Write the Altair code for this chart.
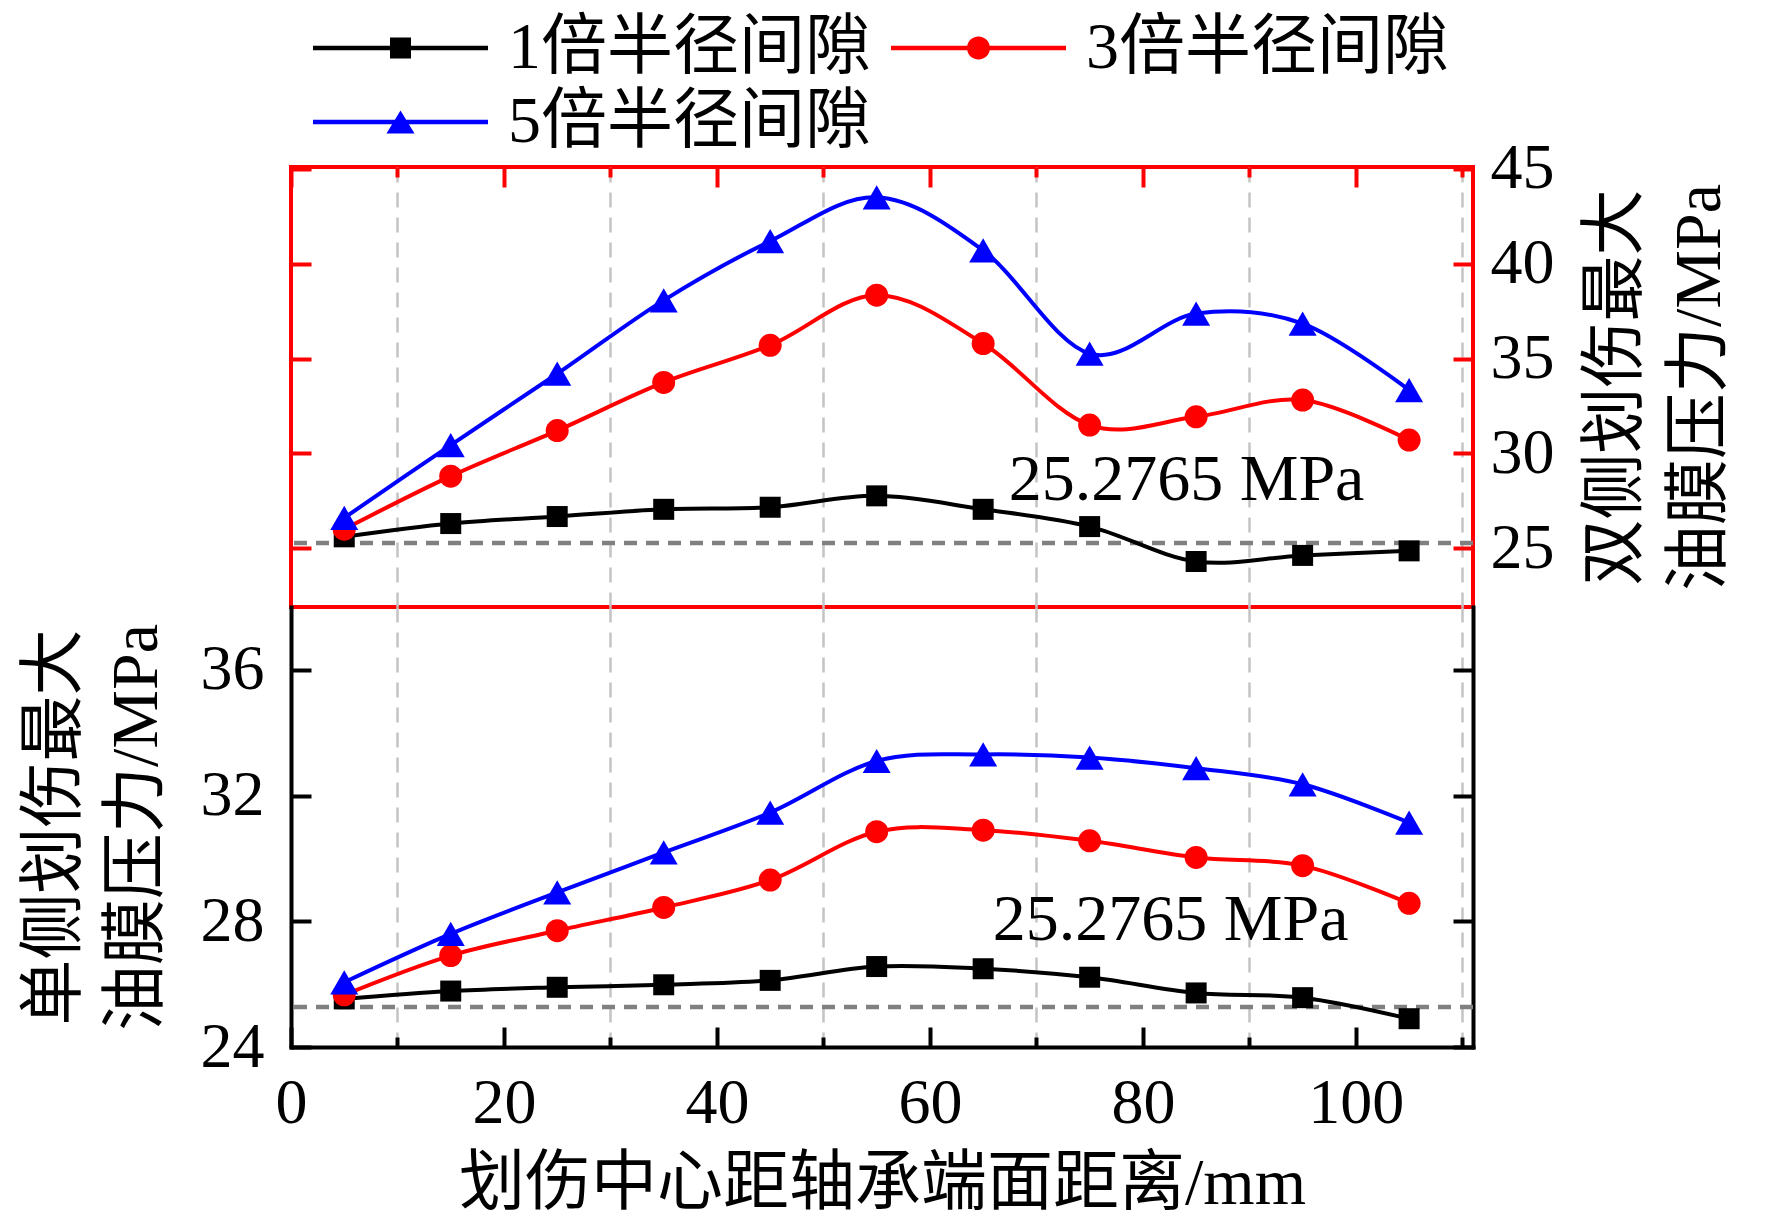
import altair as alt
import pandas as pd

FONT = "Liberation Serif, Noto Sans CJK SC"

# ---------------- data ----------------
positions = [5, 15, 25, 35, 45, 55, 65, 75, 85, 95, 105]
series_names = ["1倍半径间隙", "3倍半径间隙", "5倍半径间隙"]
series_colors = ["#000000", "#ff0000", "#0000ff"]
series_shapes = ["square", "circle", "triangle-up"]

# double-sided scratch (upper panel, right axis)
double_r1 = [25.6, 26.3, 26.67, 27.05, 27.16, 27.76, 27.05, 26.14, 24.3, 24.62, 24.86]
double_r3 = [26.0, 28.8, 31.2, 33.74, 35.7, 38.34, 35.79, 31.49, 31.93, 32.81, 30.7]
double_r5 = [26.6, 30.44, 34.2, 38.07, 41.19, 43.5, 40.7, 35.26, 37.37, 36.84, 33.34]

# single-sided scratch (lower panel, left axis)
single_r1 = [25.53, 25.78, 25.9, 25.98, 26.12, 26.56, 26.49, 26.22, 25.72, 25.57, 24.9]
single_r3 = [25.66, 26.91, 27.7, 28.44, 29.31, 30.85, 30.9, 30.56, 30.03, 29.77, 28.57]
single_r5 = [26.06, 27.6, 28.92, 30.19, 31.46, 33.1, 33.31, 33.21, 32.87, 32.36, 31.14]

threshold = [25.2765]
threshold_label = ["25.2765 MPa"]
double_label_at = [84.1, 27.56]
single_label_at = [82.6, 27.4]

x_major_ticks = [0, 20, 40, 60, 80, 100]
x_minor_ticks = [10, 30, 50, 70, 90, 110]
double_y_ticks = [25, 30, 35, 40, 45]
single_y_ticks = [24, 28, 32, 36]

x_title = "划伤中心距轴承端面距离/mm"
double_title = ["双侧划伤最大", "油膜压力/MPa"]
single_title = ["单侧划伤最大", "油膜压力/MPa"]

# ---------------- layout / style ----------------
W, H = 1182, 440
RED = "#ff0000"
GRID = "#c4c4c4"

xs = alt.Scale(domain=[0, 111], nice=False, zero=False)
ys_top = alt.Scale(domain=[21.9, 45.1], nice=False, zero=False)
ys_bot = alt.Scale(domain=[24, 38], nice=False, zero=False)

marker_sizes = [441, 529, 784]

# legend glyphs: a line segment with the marker in its middle (1 unit = 16.5 px)
LINE = "M-2,-0.13L8.606,-0.13L8.606,0.13L-2,0.13Z"
legend_paths = [
    LINE + "M2.667,-0.636L3.939,-0.636L3.939,0.636L2.667,0.636Z",
    LINE + "M2.606,0A0.697 0.697 0 1 1 4.0,0A0.697 0.697 0 1 1 2.606,0Z",
    LINE + "M3.303,-0.697L4.153,0.697L2.453,0.697Z",
]


def make_df(vals_list):
    rows = []
    for name, vals in zip(series_names, vals_list):
        for xv, yv in zip(positions, vals):
            rows.append({"x": xv, "v": yv, "s": name})
    return pd.DataFrame(rows)


def ax(**kw):
    base = dict(title=None, labels=False, ticks=False, domain=False, grid=False)
    base.update(kw)
    return alt.Axis(**base)


def tick_ax(orient, offset, values, size, color):
    return ax(orient=orient, offset=offset, ticks=True, values=values,
              tickSize=size, tickWidth=4, tickColor=color)


grid_ax = dict(grid=True, values=x_minor_ticks, gridColor=GRID, gridDash=[15, 10], gridWidth=2.5)

top_x_axes = [
    ax(**grid_ax),
    tick_ax("bottom", -H, x_major_ticks, 20, RED),
    tick_ax("bottom", -H, x_minor_ticks, 10, RED),
]
top_y_axes = [
    tick_ax("right", -W, double_y_ticks, 20, RED),
    tick_ax("left", -W, double_y_ticks, 20, RED),
    ax(orient="right", labels=True, values=double_y_ticks, tickSize=0, labelPadding=17,
       title=double_title, titleAngle=270, titleBaseline="top", titleAlign="center",
       titleX=110, titleY=220, titleLineHeight=84),
]

bot_x_axes = [
    ax(orient="bottom", labels=True, values=x_major_ticks, tickSize=0, domain=True,
       domainColor="black", domainWidth=4, domainCap="square", labelPadding=24,
       title=x_title, titlePadding=16),
    ax(**grid_ax),
    tick_ax("top", -H, x_major_ticks, 20, "black"),
    tick_ax("top", -H, x_minor_ticks, 10, "black"),
]
bot_y_axes = [
    ax(orient="left", labels=True, values=single_y_ticks, tickSize=0, domain=True,
       domainColor="black", domainWidth=4, domainCap="square", labelPadding=27,
       title=single_title, titlePadding=30, titleLineHeight=82),
    tick_ax("right", -W, single_y_ticks, 20, "black"),
    ax(orient="left", offset=-W, ticks=True, values=single_y_ticks, tickSize=20,
       tickWidth=4, tickColor="black", domain=True, domainColor="black",
       domainWidth=4, domainCap="square"),
]


def build_panel(vals_list, y_scale, x_axes, y_axes, label_at, frame, with_legend):
    df = make_df(vals_list)
    layers = []
    layers.append(
        alt.Chart(pd.DataFrame({"ref": threshold}))
        .mark_rule(color="#808080", strokeWidth=4.5, strokeDash=[13, 9])
        .encode(y=alt.Y("ref:Q", scale=y_scale, axis=None))
    )
    data_layers = []
    for i, name in enumerate(series_names):
        data_layers.append(
            alt.Chart(df).transform_filter(alt.datum.s == name)
            .mark_line(color=series_colors[i], strokeWidth=4, interpolate="cardinal")
        )
    for i, name in enumerate(series_names):
        data_layers.append(
            alt.Chart(df).transform_filter(alt.datum.s == name)
            .mark_point(shape=series_shapes[i], filled=True, size=marker_sizes[i],
                        color=series_colors[i], opacity=1, strokeWidth=0)
        )
    for k, ch in enumerate(data_layers):
        xa = x_axes[k] if k < len(x_axes) else None
        ya = y_axes[k] if k < len(y_axes) else None
        layers.append(ch.encode(
            x=alt.X("x:Q", scale=xs, axis=xa),
            y=alt.Y("v:Q", scale=y_scale, axis=ya),
        ))
    layers.append(
        alt.Chart(pd.DataFrame({"x": [label_at[0]], "y": [label_at[1]], "t": threshold_label}))
        .mark_text(font=FONT, fontSize=66, align="center", baseline="alphabetic", color="black")
        .encode(x=alt.X("x:Q", scale=xs, axis=None),
                y=alt.Y("y:Q", scale=y_scale, axis=None),
                text="t:N")
    )
    if with_legend:
        leg = alt.Legend(orient="none", legendX=22, legendY=-152, columns=2, direction="horizontal",
                         title=None, symbolSize=1089, symbolStrokeWidth=0, symbolOpacity=1,
                         labelFont=FONT, labelFontSize=66, labelColor="black",
                         labelOffset=129, columnPadding=20, rowPadding=8, padding=0,
                         labelLimit=0)
        layers.append(
            alt.Chart(df).mark_point(filled=True, opacity=0)
            .encode(
                x=alt.X("x:Q", scale=xs, axis=None),
                y=alt.Y("v:Q", scale=y_scale, axis=None),
                color=alt.Color("s:N", scale=alt.Scale(domain=series_names, range=series_colors), legend=leg),
                shape=alt.Shape("s:N", scale=alt.Scale(domain=series_names, range=legend_paths), legend=leg),
            )
        )
    return (
        alt.layer(*layers)
        .resolve_axis(x="independent", y="independent")
        .properties(width=W, height=H,
                    view=alt.ViewBackground(stroke=frame, strokeWidth=4))
    )


top = build_panel([double_r1, double_r3, double_r5], ys_top, top_x_axes, top_y_axes,
                  double_label_at, RED, True)
bottom = build_panel([single_r1, single_r3, single_r5], ys_bot, bot_x_axes, bot_y_axes,
                     single_label_at, "transparent", False)

chart = (
    alt.vconcat(top, bottom, spacing=0, bounds="flush")
    .resolve_scale(color="independent", shape="independent")
    .properties(padding={"left": 11, "top": 5, "right": 5, "bottom": 5}, background="white")
    .configure_axis(labelFont=FONT, titleFont=FONT, labelFontSize=64, titleFontSize=66,
                    labelColor="black", titleColor="black", titleFontWeight="normal",
                    labelFlush=False, labelOverlap=False)
)

chart.save("out.html", embed_options={"renderer": "svg", "actions": False})
